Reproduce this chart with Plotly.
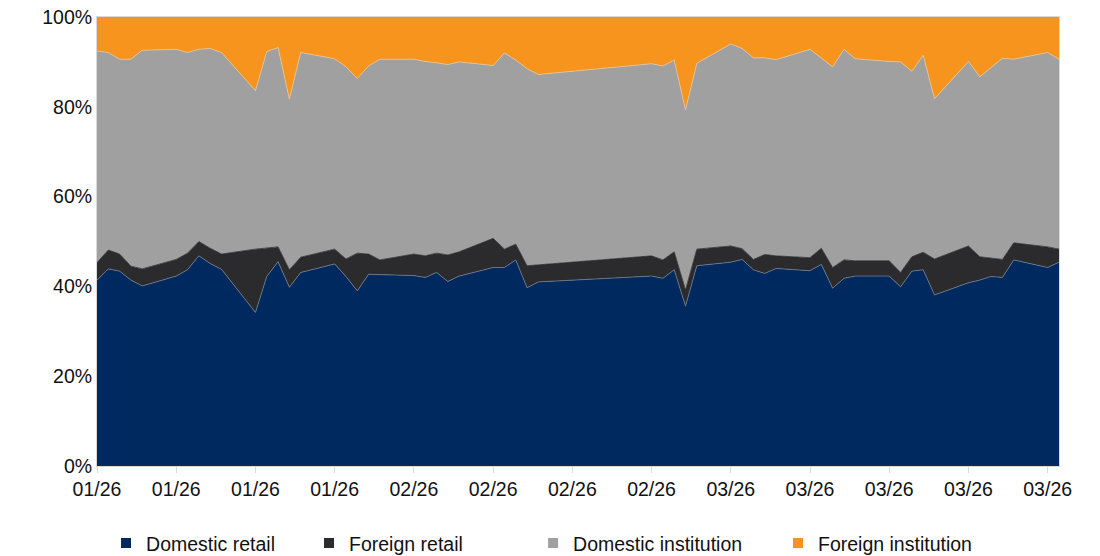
import plotly.graph_objects as go

# Trading days (Tet break 16-20 Feb has no sessions)
dates = [
    "2026-01-05", "2026-01-06", "2026-01-07", "2026-01-08", "2026-01-09",
    "2026-01-12", "2026-01-13", "2026-01-14", "2026-01-15", "2026-01-16",
    "2026-01-19", "2026-01-20", "2026-01-21", "2026-01-22", "2026-01-23",
    "2026-01-26", "2026-01-27", "2026-01-28", "2026-01-29", "2026-01-30",
    "2026-02-02", "2026-02-03", "2026-02-04", "2026-02-05", "2026-02-06",
    "2026-02-09", "2026-02-10", "2026-02-11", "2026-02-12", "2026-02-13",
    "2026-02-23", "2026-02-24", "2026-02-25", "2026-02-26", "2026-02-27",
    "2026-03-02", "2026-03-03", "2026-03-04", "2026-03-05", "2026-03-06",
    "2026-03-09", "2026-03-10", "2026-03-11", "2026-03-12", "2026-03-13",
    "2026-03-16", "2026-03-17", "2026-03-18", "2026-03-19", "2026-03-20",
    "2026-03-23", "2026-03-24", "2026-03-25", "2026-03-26", "2026-03-27",
    "2026-03-30", "2026-03-31",
]

# Share of trading value by investor group (%)
domestic_retail = [
    41.4, 43.9, 43.4, 41.4, 40.1,
    42.3, 43.7, 46.8, 45.1, 43.8,
    34.2, 42.2, 45.5, 39.8, 43.1,
    45.0, 42.2, 39.0, 42.7, 42.6,
    42.4, 42.0, 43.1, 41.1, 42.3,
    44.2, 44.2, 45.9, 39.7, 41.0,
    42.3, 41.8, 43.7, 35.6, 44.6,
    45.4, 46.0, 43.7, 42.9, 44.0,
    43.5, 44.9, 39.6, 41.8, 42.3,
    42.3, 39.9, 43.4, 43.7, 38.1,
    40.8, 41.4, 42.2, 42.0, 45.9,
    44.2, 45.4,
]
foreign_retail = [
    3.9, 4.2, 3.8, 3.1, 3.8,
    3.7, 3.7, 3.2, 3.4, 3.4,
    14.1, 6.4, 3.3, 3.9, 3.4,
    3.3, 3.9, 8.4, 4.5, 3.3,
    4.8, 4.8, 4.3, 5.9, 5.4,
    6.5, 4.1, 3.5, 4.9, 3.8,
    4.5, 4.1, 4.0, 3.6, 3.7,
    3.6, 2.4, 2.3, 4.2, 2.8,
    2.9, 3.6, 4.6, 4.1, 3.4,
    3.4, 3.2, 3.2, 3.9, 8.0,
    8.2, 5.2, 4.1, 4.0, 3.8,
    4.6, 2.9,
]
domestic_institution = [
    47.1, 44.0, 43.4, 46.1, 48.7,
    46.8, 44.7, 42.8, 44.5, 44.9,
    35.3, 43.7, 44.4, 38.0, 45.6,
    42.4, 42.8, 38.9, 41.9, 44.7,
    43.4, 43.3, 42.4, 42.4, 42.3,
    38.5, 43.7, 41.0, 43.9, 42.4,
    42.8, 43.2, 42.7, 40.1, 41.4,
    45.0, 44.6, 44.9, 43.8, 43.7,
    46.4, 42.4, 44.7, 46.9, 45.0,
    44.4, 46.9, 41.3, 43.9, 35.7,
    41.1, 40.1, 42.5, 44.8, 40.9,
    43.3, 42.3,
]
foreign_institution = [
    7.6, 7.9, 9.4, 9.4, 7.4,
    7.2, 7.9, 7.2, 7.0, 7.9,
    16.4, 7.7, 6.8, 18.3, 7.9,
    9.3, 11.1, 13.7, 10.9, 9.4,
    9.4, 9.9, 10.2, 10.6, 10.0,
    10.8, 8.0, 9.6, 11.5, 12.8,
    10.4, 10.9, 9.6, 20.7, 10.3,
    6.0, 7.0, 9.1, 9.1, 9.5,
    7.2, 9.1, 11.1, 7.2, 9.3,
    9.9, 10.0, 12.1, 8.5, 18.2,
    9.9, 13.3, 11.2, 9.2, 9.4,
    7.9, 9.4,
]

series = [
    ("Domestic retail", domestic_retail, "#002960", "#6f7b8c"),
    ("Foreign retail", foreign_retail, "#2b2b2d", "#2b2b2d"),
    ("Domestic institution", domestic_institution, "#a0a0a0", "#e2c49c"),
    ("Foreign institution", foreign_institution, "#f7941e", "#f7941e"),
]

FONT = "Liberation Sans, Arial, sans-serif"
fig = go.Figure()

for name, vals, fill, edge in series:
    fig.add_trace(go.Scatter(
        x=dates, y=vals, name=name, mode="lines",
        stackgroup="share", fillcolor=fill,
        line=dict(color=edge, width=0.8),
        showlegend=False, hoverinfo="x+y+name",
    ))

# Legend entries: square swatches, one legend box per entry
legend_x = [0.0094, 0.2204, 0.4533, 0.7079]
legend_ids = ["legend", "legend2", "legend3", "legend4"]
for (name, _, fill, _), lid in zip(series, legend_ids):
    fig.add_trace(go.Scatter(
        x=[None], y=[None], name=name, mode="markers",
        marker=dict(symbol="square", size=10, color=fill),
        legend=lid, showlegend=True,
    ))

legend_common = dict(
    orientation="h", yanchor="middle", xanchor="left", y=-0.172,
    font=dict(family=FONT, size=19.5, color="#111111"),
    bgcolor="rgba(0,0,0,0)", borderwidth=0, itemwidth=30,
)
layout_legends = {}
for lid, lx in zip(legend_ids, legend_x):
    layout_legends[lid] = dict(legend_common, x=lx)

fig.update_layout(
    width=1100, height=556,
    margin=dict(l=97, r=41, t=17, b=90, autoexpand=False),
    paper_bgcolor="white", plot_bgcolor="white",
    font=dict(family=FONT, size=19.5, color="#111111"),
    xaxis=dict(
        type="date",
        range=["2026-01-05", "2026-03-31"],
        tick0="2026-01-05", dtick=7 * 24 * 3600 * 1000,
        tickformat="%m/%y",
        showgrid=False, zeroline=False,
        showline=True, linecolor="#d9d9d9", linewidth=1, mirror=True,
        ticks="outside", ticklen=6, tickcolor="#d9d9d9",
        tickfont=dict(family=FONT, size=19.5, color="#111111"),
    ),
    yaxis=dict(
        range=[0, 100], dtick=20, ticksuffix="%",
        showgrid=False, zeroline=False,
        showline=True, linecolor="#d9d9d9", linewidth=1, mirror=True,
        ticks="", tickfont=dict(family=FONT, size=19.5, color="#111111"),
    ),
    **layout_legends,
)

fig.write_html("out.html")
